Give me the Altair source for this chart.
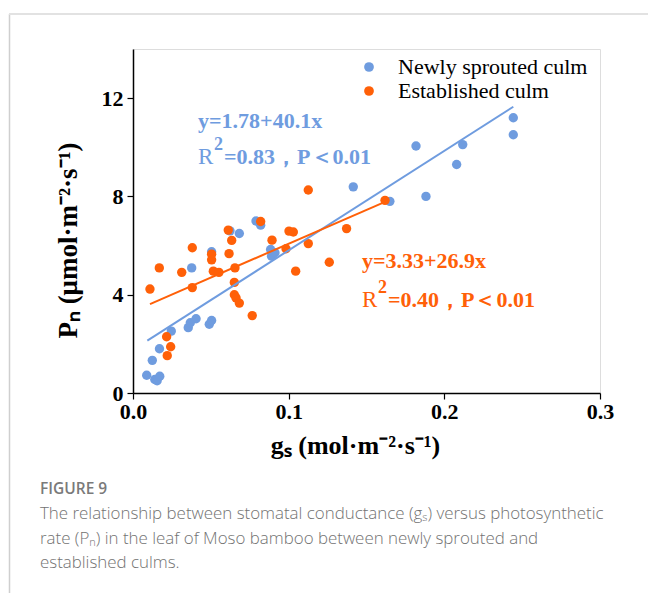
import altair as alt
import pandas as pd

# ---- data ----
new_gs = [0.0088, 0.0140, 0.0155, 0.0172, 0.0124, 0.0170, 0.0246, 0.0355, 0.0368, 0.0405,
          0.0490, 0.0505, 0.0377, 0.0505, 0.0623, 0.0683, 0.0790, 0.0820, 0.0884, 0.0890,
          0.0912, 0.1415, 0.1650, 0.1882, 0.1818, 0.2079, 0.2118, 0.2443, 0.2443]
new_pn = [0.72, 0.55, 0.50, 0.68, 1.33, 1.80, 2.52, 2.66, 2.86, 3.02,
          2.80, 2.95, 5.09, 5.75, 6.60, 6.49, 7.00, 6.83, 5.84, 5.57,
          5.71, 8.39, 7.80, 8.00, 10.05, 9.30, 10.11, 11.20, 10.51]

est_gs = [0.0109, 0.0169, 0.0216, 0.0242, 0.0220, 0.0313, 0.0381, 0.0381, 0.0505, 0.0505,
          0.0516, 0.0552, 0.0612, 0.0634, 0.0617, 0.0655, 0.0651, 0.0651, 0.0662, 0.0683,
          0.0766, 0.0820, 0.0893, 0.0983, 0.1002, 0.1030, 0.1045, 0.1126, 0.1126, 0.1261,
          0.1372, 0.1619]
est_pn = [4.23, 5.09, 2.29, 1.88, 1.52, 4.91, 5.91, 4.29, 5.65, 5.42,
          4.96, 4.91, 6.63, 6.21, 5.67, 5.09, 4.50, 4.00, 3.87, 3.66,
          3.15, 6.98, 6.22, 5.87, 6.59, 6.55, 4.96, 6.08, 8.26, 5.32,
          6.69, 7.84]

# fitted lines (end points)
new_fit_gs = [0.0092, 0.2443]
new_fit_pn = [2.13, 11.65]
est_fit_gs = [0.0109, 0.1619]
est_fit_pn = [3.62, 7.78]

groups = ["Newly sprouted culm", "Established culm"]
BLUE = "#6F9CDF"
ORANGE = "#FF6008"

x_ticks = [0.0, 0.1, 0.2, 0.3]
y_ticks = [0, 4, 8, 12]

pts = pd.DataFrame({
    "gs": new_gs + est_gs,
    "pn": new_pn + est_pn,
    "grp": [groups[0]] * len(new_gs) + [groups[1]] * len(est_gs),
    "ord": [0] * len(new_gs) + [1] * len(est_gs),
})

SERIF = "Liberation Serif"
W, H = 467, 344

xs = alt.Scale(domain=[0, 0.3], nice=False, zero=False)
ys = alt.Scale(domain=[0, 14], nice=False)

xax = alt.Axis(values=x_ticks, format=".1f", grid=False, tickSize=6, labelPadding=2,
               labelFlush=False, labelOverlap=False,
               labelFont=SERIF, labelFontSize=22, labelFontWeight="bold", labelColor="black",
               domainColor="black", domainWidth=1.5, tickColor="black", tickWidth=1.2,
               title="gₛ (mol·m⁻²·s⁻¹)", titleFont=SERIF, titleFontSize=26,
               titleFontWeight="bold", titleColor="black", titleX=222, titleY=52,
               titleAlign="center", titleBaseline="middle")
yax = alt.Axis(values=y_ticks, grid=False, tickSize=6, labelPadding=4,
               labelFlush=False, labelOverlap=False,
               labelFont=SERIF, labelFontSize=22, labelFontWeight="bold", labelColor="black",
               domainColor="black", domainWidth=1.5, tickColor="black", tickWidth=1.2,
               title="Pₙ (μmol·m⁻²·s⁻¹)", titleFont=SERIF, titleFontSize=27,
               titleFontWeight="bold", titleColor="black", titleX=-65, titleY=191,
               titleAngle=270, titleAlign="center", titleBaseline="middle")

points = alt.Chart(pts).mark_circle(size=88, opacity=1).encode(
    x=alt.X("gs:Q", scale=xs, axis=xax),
    y=alt.Y("pn:Q", scale=ys, axis=yax),
    color=alt.Color("grp:N", scale=alt.Scale(domain=groups, range=[BLUE, ORANGE]),
                    legend=alt.Legend(title=None, orient="none", legendX=225, legendY=7,
                                      labelFont=SERIF, labelFontSize=22, labelColor="black",
                                      labelLimit=0,
                                      symbolSize=95, symbolType="circle", labelOffset=18,
                                      rowPadding=2, padding=0, symbolStrokeWidth=0)),
    order=alt.Order("ord:Q"),
)

new_line = alt.Chart(pd.DataFrame({"gs": new_fit_gs, "pn": new_fit_pn})).mark_line(
    color=BLUE, strokeWidth=2).encode(x=alt.X("gs:Q", scale=xs), y=alt.Y("pn:Q", scale=ys))
est_line = alt.Chart(pd.DataFrame({"gs": est_fit_gs, "pn": est_fit_pn})).mark_line(
    color=ORANGE, strokeWidth=2).encode(x=alt.X("gs:Q", scale=xs), y=alt.Y("pn:Q", scale=ys))

one = pd.DataFrame({"a": [0]})


def label(text, gx, py, color, size, weight="bold", dx=0, dy=0):
    return alt.Chart(one).mark_text(
        text=text, align="left", baseline="middle", font=SERIF, fontSize=size,
        fontWeight=weight, color=color, dx=dx, dy=dy).encode(
        x=alt.datum(gx, scale=xs), y=alt.datum(py, scale=ys))


annos = [
    label("y=1.78+40.1x", 0.0418, 11.07, BLUE, 22),
    label("R", 0.0418, 9.60, BLUE, 23, weight="normal"),
    label("2", 0.0418, 9.60, BLUE, 18, dx=16, dy=-12),
    label("=0.83，P＜0.01", 0.0418, 9.60, BLUE, 22, dx=26),
    label("y=3.33+26.9x", 0.1471, 5.37, ORANGE, 22),
    label("R", 0.1471, 3.78, ORANGE, 23, weight="normal"),
    label("2", 0.1471, 3.78, ORANGE, 18, dx=16, dy=-12),
    label("=0.40，P＜0.01", 0.1471, 3.78, ORANGE, 22, dx=26),
]


def page_text(text, px, py, size, color, weight="normal"):
    return alt.Chart(one).mark_text(
        text=text, align="left", baseline="middle", font="Open Sans", fontSize=size,
        fontWeight=weight, color=color).encode(x=alt.value(px - 133), y=alt.value(py - 49))


caption = [
    page_text("FIGURE 9", 40, 489, 15.5, "#7a7a7a", weight=600),
    page_text("The relationship between stomatal conductance (gₛ) versus photosynthetic", 40, 514, 16.9, "#727272", weight=300),
    page_text("rate (Pₙ) in the leaf of Moso bamboo between newly sprouted and", 40, 539, 16.9, "#727272", weight=300),
    page_text("established culms.", 40, 563, 16.9, "#727272", weight=300),
]

left_border = alt.Chart(one).mark_rule(color="#cfcfcf", strokeWidth=1.5).encode(
    x=alt.value(9.5 - 133), y=alt.value(14 - 49), y2=alt.value(593 - 49))
top_border = alt.Chart(one).mark_rule(color="#e2e2e2", strokeWidth=2).encode(
    x=alt.value(9 - 133), x2=alt.value(648 - 133), y=alt.value(14 - 49))

chart = alt.layer(points, new_line, est_line, *annos, *caption, left_border, top_border).properties(
    width=W, height=H, autosize="none",
    padding={"left": 133, "top": 49, "right": 648 - 133 - W, "bottom": 593 - 49 - H},
).configure_view(stroke="black", strokeWidth=1.5).configure(background="white")

chart.save("out.html", embed_options={"renderer": "svg", "actions": False})
